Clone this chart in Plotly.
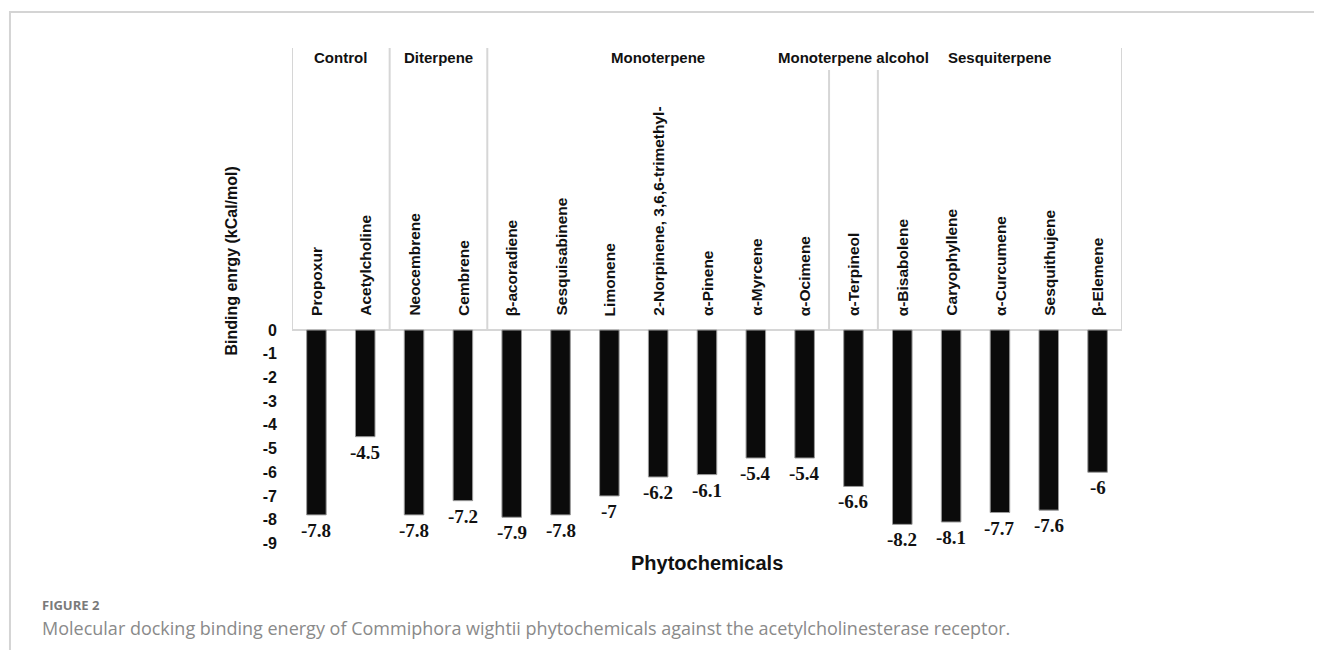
import plotly.graph_objects as go

# ---------------- data ----------------
compounds = [
    "Propoxur", "Acetylcholine", "Neocembrene", "Cembrene", "β-acoradiene",
    "Sesquisabinene", "Limonene", "2-Norpinene, 3,6,6-trimethyl-", "α-Pinene",
    "α-Myrcene", "α-Ocimene", "α-Terpineol", "α-Bisabolene", "Caryophyllene",
    "α-Curcumene", "Sesquithujene", "β-Elemene",
]
energies = [-7.8, -4.5, -7.8, -7.2, -7.9, -7.8, -7.0, -6.2, -6.1, -5.4, -5.4,
            -6.6, -8.2, -8.1, -7.7, -7.6, -6.0]
value_labels = ["-7.8", "-4.5", "-7.8", "-7.2", "-7.9", "-7.8", "-7", "-6.2",
                "-6.1", "-5.4", "-5.4", "-6.6", "-8.2", "-8.1", "-7.7", "-7.6", "-6"]
groups = ["Control", "Diterpene", "Monoterpene", "Monoterpene alcohol", "Sesquiterpene"]
group_sizes = [2, 2, 7, 1, 5]
y_ticks = [0, -1, -2, -3, -4, -5, -6, -7, -8, -9]

# ---------------- style ----------------
BOLD_SANS = "Liberation Sans"
SERIF = "Liberation Serif"
GRID = "#d6d6d6"
Y_TOP = 11.9
Y_BOTTOM = -9.45

fig = go.Figure()
fig.add_trace(go.Bar(
    x=list(range(len(compounds))), y=energies,
    width=0.4,
    marker=dict(color="#0b0b0b", line=dict(color="#9a9a9a", width=1)),
    hoverinfo="skip", showlegend=False,
))

shapes = []
annotations = []

# zero line across the category box
shapes.append(dict(type="line", xref="x", yref="y", x0=-0.5, x1=len(compounds) - 0.5,
                   y0=0, y1=0, line=dict(color=GRID, width=2), layer="below"))

# group boundaries
bounds = [-0.5]
for s in group_sizes:
    bounds.append(bounds[-1] + s)
short_lines = {bounds[3], bounds[4]}  # lines under the long group labels start lower
for b in bounds:
    top = 10.97 if b in short_lines else Y_TOP
    shapes.append(dict(type="line", xref="x", yref="y", x0=b, x1=b, y0=0, y1=top,
                       line=dict(color=GRID, width=2), layer="below"))

# group labels
for g, lo, hi in zip(groups, bounds[:-1], bounds[1:]):
    annotations.append(dict(x=(lo + hi) / 2, y=11.48, xref="x", yref="y",
                            text="<b>" + g + "</b>",
                            showarrow=False, xanchor="center", yanchor="middle",
                            font=dict(family=BOLD_SANS, size=15, color="#111")))

# rotated category labels
for i, c in enumerate(compounds):
    annotations.append(dict(x=i, y=0, xref="x", yref="y", text="<b>" + c + "</b>",
                            textangle=-90, showarrow=False, xanchor="center",
                            yanchor="bottom", yshift=12,
                            font=dict(family=BOLD_SANS, size=15.5, color="#111")))

# value labels
for i, (v, t) in enumerate(zip(energies, value_labels)):
    annotations.append(dict(x=i, y=v, xref="x", yref="y", text="<b>" + t + "</b>",
                            showarrow=False, xanchor="center", yanchor="top", yshift=-3,
                            font=dict(family=SERIF, size=19, color="#111")))

# axis titles
annotations.append(dict(x=-0.0723, y=0.58, xref="paper", yref="paper",
                        text="<b>Binding enrgy (kCal/mol)</b>", textangle=-90,
                        showarrow=False, xanchor="center", yanchor="middle",
                        font=dict(family=BOLD_SANS, size=16, color="#111")))
annotations.append(dict(x=0.5, y=0, xref="paper", yref="paper",
                        text="<b>Phytochemicals</b>", showarrow=False,
                        xanchor="center", yanchor="top", yshift=4,
                        font=dict(family=BOLD_SANS, size=20, color="#111")))

# caption
annotations.append(dict(x=-0.3036, y=-0.1013, xref="paper", yref="paper",
                        text="<b>FIGURE 2</b>", showarrow=False, xanchor="left", yanchor="middle",
                        font=dict(family="Open Sans", size=13, color="#7a7a7a")))
annotations.append(dict(x=-0.3036, y=-0.1462, xref="paper", yref="paper",
                        text="Molecular docking binding energy of Commiphora wightii phytochemicals against the acetylcholinesterase receptor.",
                        showarrow=False, xanchor="left", yanchor="middle",
                        font=dict(family="Open Sans", size=18, color="#8a8a8a")))

# outer card border
shapes.append(dict(type="rect", xref="paper", yref="paper", x0=-0.3398, x1=1.30,
                   y0=-0.25, y1=1.0711, line=dict(color="#d4d4d4", width=2),
                   fillcolor="rgba(0,0,0,0)", layer="below"))

fig.update_layout(
    width=1306, height=642,
    margin=dict(l=284, r=192, t=40, b=96),
    paper_bgcolor="white", plot_bgcolor="white",
    shapes=shapes, annotations=annotations,
    xaxis=dict(range=[-0.5, len(compounds) - 0.5], showticklabels=False,
               showgrid=False, zeroline=False, showline=False, ticks=""),
    yaxis=dict(range=[Y_BOTTOM, Y_TOP], tickvals=y_ticks,
               ticktext=["<b>%d</b>" % t for t in y_ticks],
               showgrid=False, zeroline=False, showline=False, ticks="",
               ticklabelstandoff=14,
               tickfont=dict(family=BOLD_SANS, size=16, color="#111")),
)

fig.write_html("out.html")
